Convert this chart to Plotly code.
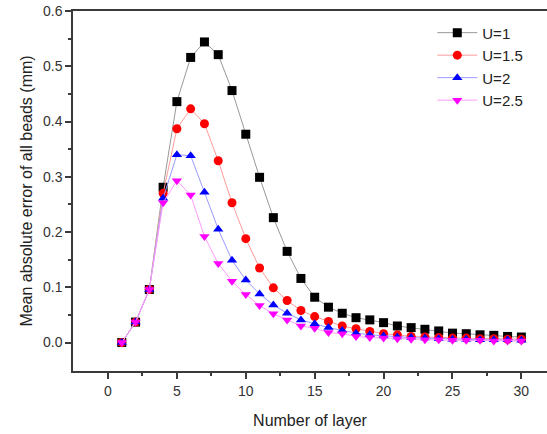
import plotly.graph_objects as go

layers = list(range(1, 31))

u1 = [0.0, 0.037, 0.096, 0.281, 0.436, 0.516, 0.544, 0.521, 0.456, 0.377,
      0.299, 0.226, 0.165, 0.116, 0.082, 0.064, 0.053, 0.045, 0.041, 0.036,
      0.030, 0.027, 0.024, 0.021, 0.017, 0.016, 0.014, 0.013, 0.011, 0.010]
u15 = [0.0, 0.037, 0.096, 0.270, 0.387, 0.423, 0.396, 0.329, 0.253, 0.188,
       0.135, 0.099, 0.076, 0.058, 0.047, 0.038, 0.030, 0.025, 0.020, 0.016,
       0.014, 0.011, 0.010, 0.009, 0.008, 0.008, 0.007, 0.007, 0.006, 0.006]
u2 = [0.0, 0.037, 0.096, 0.261, 0.340, 0.338, 0.272, 0.205, 0.149, 0.113,
      0.088, 0.068, 0.053, 0.041, 0.034, 0.027, 0.022, 0.017, 0.014, 0.012,
      0.010, 0.009, 0.008, 0.007, 0.006, 0.006, 0.005, 0.005, 0.005, 0.004]
u25 = [0.0, 0.037, 0.096, 0.253, 0.293, 0.267, 0.192, 0.143, 0.111, 0.087,
       0.067, 0.052, 0.041, 0.030, 0.026, 0.018, 0.016, 0.011, 0.009, 0.008,
       0.007, 0.006, 0.005, 0.005, 0.004, 0.004, 0.004, 0.003, 0.003, 0.003]

names = ["U=1", "U=1.5", "U=2", "U=2.5"]
series = [u1, u15, u2, u25]
marker_colors = ["#000000", "#ff0000", "#0000ff", "#ff00ff"]
line_colors = ["#999999", "#ff9a9a", "#9a9aff", "#ff9aff"]
symbols = ["square", "circle", "triangle-up", "triangle-down"]

FONT = "Liberation Sans, Arial, sans-serif"

fig = go.Figure()
for n, s, mc, lc, sym in zip(names, series, marker_colors, line_colors, symbols):
    fig.add_trace(go.Scatter(
        x=layers, y=s, name=n, mode="lines+markers",
        line=dict(color=lc, width=1),
        marker=dict(symbol=sym, color=mc, size=9, line=dict(width=0)),
    ))

axis_color = "#3a3a3a"
fig.update_layout(
    width=547, height=434,
    margin=dict(l=73, r=0, t=11, b=63),
    paper_bgcolor="white", plot_bgcolor="white",
    font=dict(family=FONT, color="#333333", size=14),
    showlegend=True,
    legend=dict(x=0.758, y=0.985, xanchor="left", yanchor="top",
                font=dict(size=15, color="#222222"),
                bgcolor="rgba(0,0,0,0)", tracegroupgap=0, itemwidth=40),
    xaxis=dict(range=[-2.54, 31.86], tickmode="array",
               tickvals=[0, 5, 10, 15, 20, 25, 30],
               ticks="outside", ticklen=6, tickwidth=1.5, tickcolor=axis_color,
               showline=True, linecolor=axis_color, linewidth=1.5, mirror=True,
               showgrid=False, zeroline=False,
               minor=dict(tickvals=[2.5, 7.5, 12.5, 17.5, 22.5, 27.5],
                          ticks="outside", ticklen=3, tickwidth=1.5, tickcolor=axis_color),
               tickfont=dict(size=14, color="#333333"),
               title=dict(text="Number of layer", font=dict(size=16, color="#222222"),
                          standoff=17)),
    yaxis=dict(range=[-0.0515, 0.6], tickmode="array",
               tickvals=[0.0, 0.1, 0.2, 0.3, 0.4, 0.5, 0.6],
               ticktext=["0.0", "0.1", "0.2", "0.3", "0.4", "0.5", "0.6"],
               ticks="outside", ticklen=6, tickwidth=1.5, tickcolor=axis_color,
               showline=True, linecolor=axis_color, linewidth=1.5,
               showgrid=False, zeroline=False,
               minor=dict(tickvals=[0.05, 0.15, 0.25, 0.35, 0.45, 0.55],
                          ticks="outside", ticklen=3, tickwidth=1.5, tickcolor=axis_color),
               tickfont=dict(size=14, color="#333333"),
               title=dict(text="Mean absolute error of all beads (mm)",
                          font=dict(size=16, color="#222222"), standoff=6)),
)

fig.write_html("out.html", config={"displayModeBar": False},
               post_script="document.body.style.margin='0';")
